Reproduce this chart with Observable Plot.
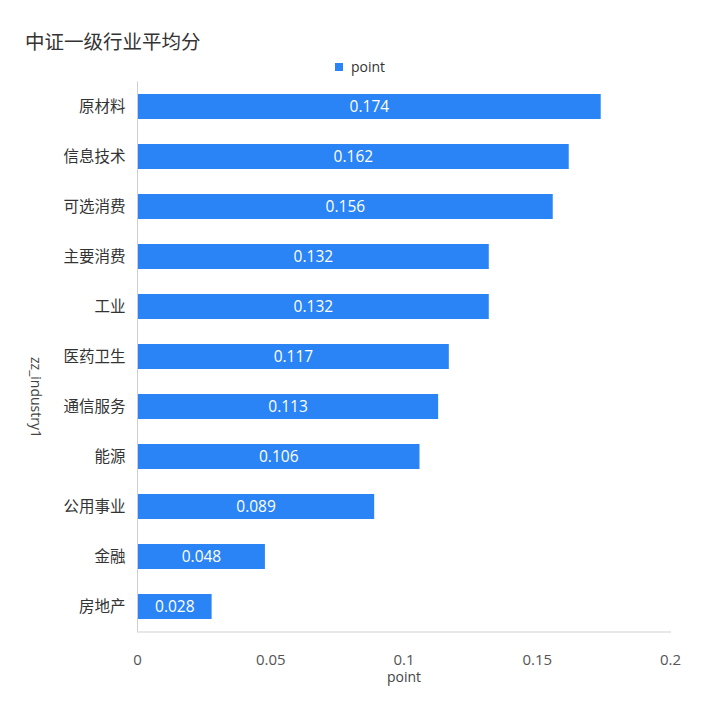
<!DOCTYPE html>
<html>
<head>
<meta charset="utf-8">
<script src="https://cdn.jsdelivr.net/npm/d3@7"></script>
<script src="https://cdn.jsdelivr.net/npm/@observablehq/plot@0.6"></script>
<style>
  html, body { margin: 0; padding: 0; background: #fff; }
  #wrap { position: relative; width: 720px; height: 728px; font-family: "Open Sans", "Noto Sans CJK SC", sans-serif; }
  #title { position: absolute; left: 25px; top: 26px; font-size: 19.5px; color: #333; font-family: "Noto Sans CJK SC", "Open Sans", sans-serif; }
  #legend { position: absolute; left: 0; width: 720px; top: 57px; text-align: center; font-size: 14px; color: #333; }
  #legend .sw { display: inline-block; width: 8px; height: 8px; background: #2a84f5; margin-right: 8px; vertical-align: 1px; }
  #chart { position: absolute; left: 0; top: 80px; }
</style>
</head>
<body>
<div id="wrap">
  <div id="title">中证一级行业平均分</div>
  <div id="legend"><span class="sw"></span>point</div>
  <div id="chart"></div>
</div>
<script>
const categories = ["原材料", "信息技术", "可选消费", "主要消费", "工业", "医药卫生", "通信服务", "能源", "公用事业", "金融", "房地产"];
const values = [0.174, 0.162, 0.156, 0.132, 0.132, 0.117, 0.113, 0.106, 0.089, 0.048, 0.028];
const labels = ["0.174", "0.162", "0.156", "0.132", "0.132", "0.117", "0.113", "0.106", "0.089", "0.048", "0.028"];
const xTicks = [0, 0.05, 0.1, 0.15, 0.2];
const xTickLabels = ["0", "0.05", "0.1", "0.15", "0.2"];

const data = categories.map((c, i) => ({industry: c, value: values[i], label: labels[i]}));
const blue = "#2a84f5";
const font = "'Open Sans', 'Noto Sans CJK SC', sans-serif";

const plot = Plot.plot({
  width: 720,
  height: 648,
  marginLeft: 137,
  marginRight: 50,
  marginTop: 1.5,
  marginBottom: 96.5,
  style: {fontFamily: font, fontSize: "15px", background: "#fff", overflow: "visible"},
  x: {domain: [0, 0.2], range: [137, 670], ticks: xTicks},
  y: {domain: categories, paddingInner: 0.5, paddingOuter: 0.25, align: 0.5},
  marks: [
    Plot.barX(data, {x: "value", y: "industry", fill: blue}),
    Plot.text(data, {x: d => d.value / 2, y: "industry", text: "label", fill: "white", fontSize: 15.5}),
    Plot.ruleX([0], {stroke: "#cfcfcf", y1: null, y2: null}),
    Plot.frame({anchor: "bottom", stroke: "#cfcfcf"}),
    Plot.axisX({ticks: xTicks, tickFormat: (d) => xTickLabels[xTicks.indexOf(d)], tickSize: 0, tickPadding: 22, fontSize: 15, fill: "#555", label: null}),
    Plot.axisY({tickSize: 0, tickPadding: 12, fontSize: 15.5, fill: "#333", label: null}),
    Plot.text(["point"], {frameAnchor: "bottom", dy: 50, fontSize: 14, fill: "#444"}),
    Plot.text(["zz_industry1"], {frameAnchor: "left", dx: -102, rotate: 90, fontSize: 14, fill: "#444"})
  ]
});
document.getElementById("chart").appendChild(plot);
</script>
</body>
</html>
